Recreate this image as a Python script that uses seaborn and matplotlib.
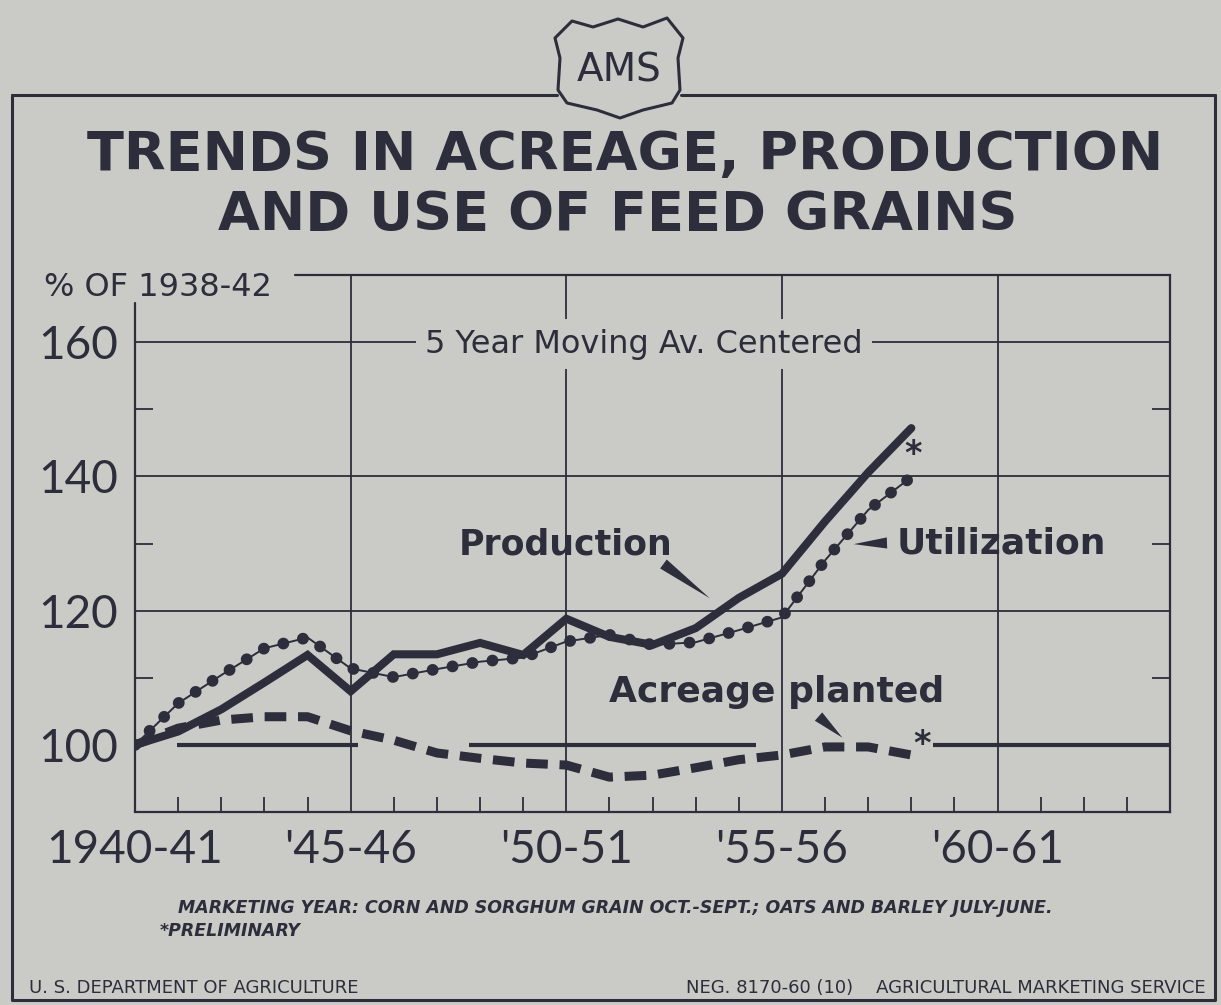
import matplotlib
matplotlib.use("Agg")
import matplotlib.pyplot as plt
import seaborn as sns
import pandas as pd
from matplotlib.path import Path
from matplotlib.patches import PathPatch
from matplotlib.lines import Line2D

# values (% of 1938-42, 5 year moving average)
years = list(range(1940, 1959))
production = [100, 102, 105.3, 109.3, 113.4, 108, 113.5, 113.5, 115.2, 113.4,
              118.8, 116.1, 114.9, 117.4, 121.9, 125.5, 133.3, 140.6, 147.2]
utilization = [100, 106.2, 110.4, 114.4, 116, 111.4, 110.1, 111.3, 112.4, 113,
               115.4, 116.4, 114.9, 115.3, 117.1, 119, 127.5, 135, 139.9]
acreage = [100, 102.5, 103.7, 104.2, 104.2, 102.1, 100.7, 98.8, 98, 97.3,
           97, 95.2, 95.5, 96.6, 97.8, 98.5, 99.7, 99.7, 98.5]
x_ticks = [1940, 1945, 1950, 1955, 1960]
x_labels = ["1940-41", "'45-46", "'50-51", "'55-56", "'60-61"]
y_ticks = [100, 120, 140, 160]

df = pd.DataFrame({"year": years, "Production": production,
                   "Utilization": utilization, "Acreage planted": acreage})

BG = "#cacbc6"
INK = "#2d2d3b"

sns.set_style("white")
plt.rcParams["font.family"] = ["DejaVu Sans"]

fig = plt.figure(figsize=(12.21, 10.05), dpi=100, facecolor=BG)
ax = fig.add_axes([0.1106, 0.192, 0.8477, 0.5343])
ax.set_facecolor(BG)

# grid
for xv in x_ticks[1:]:
    ax.axvline(xv, color=INK, lw=1.3, zorder=1)
for yv in [120, 140, 160]:
    ax.axhline(yv, color=INK, lw=1.3, zorder=1)
ax.hlines([100, 100, 100], [1940.97, 1947.75, 1958.5], [1945.16, 1954.4, 1964],
          color=INK, lw=3, zorder=1)

sns.lineplot(data=df, x="year", y="Production", ax=ax, color=INK, lw=5.8,
             solid_joinstyle="miter", zorder=4)
sns.lineplot(data=df, x="year", y="Utilization", ax=ax, color=INK, lw=1.4, zorder=3)
sns.lineplot(data=df, x="year", y="Utilization", ax=ax, color=INK, lw=8.5,
             linestyle=(0, (0.01, 1.7)), dash_capstyle="round", zorder=3)
sns.lineplot(data=df, x="year", y="Acreage planted", ax=ax, color=INK, lw=6.5,
             linestyle=(0, (2.4, 1.3)), dash_capstyle="butt", zorder=3)

ax.set_xlim(1940, 1964)
ax.set_ylim(90, 170)
ax.set_xlabel("")
ax.set_ylabel("")

ax.set_xticks(x_ticks)
ax.set_xticklabels(x_labels)
ax.set_xticks(range(1941, 1964), minor=True)
ax.set_yticks(y_ticks)
ax.set_yticks([110, 130, 150], minor=True)
ax.tick_params(axis="both", which="major", length=0, labelsize=33, colors=INK)
ax.tick_params(axis="x", which="major", pad=12)
ax.tick_params(axis="y", which="major", pad=12)
ax.tick_params(axis="x", which="minor", direction="in", length=11, width=1.3,
               color=INK, bottom=True)
ax.tick_params(axis="y", which="minor", direction="in", length=13, width=1.3,
               color=INK, left=True, right=True)
for lab in ax.get_xticklabels() + ax.get_yticklabels():
    lab.set_family("Lato")

for s in ["top", "left"]:
    ax.spines[s].set_visible(False)
for s in ["bottom", "right"]:
    ax.spines[s].set_color(INK)
    ax.spines[s].set_linewidth(1.6)
ax.add_line(Line2D([0.155, 1], [1, 1], transform=ax.transAxes, color=INK,
                   lw=1.6, clip_on=False))
ax.add_line(Line2D([0, 0], [0, 0.948], transform=ax.transAxes, color=INK,
                   lw=1.6, clip_on=False))

# labels and pointers
lab_kw = dict(color=INK, fontsize=25, fontweight="bold", va="center", zorder=6)
ax.text(1947.5, 129.8, "Production", ha="left", **lab_kw)
ax.text(1957.65, 130, "Utilization", ha="left", fontsize=26,
        **{k: v for k, v in lab_kw.items() if k != "fontsize"})
ax.text(1951.0, 107.9, "Acreage planted", ha="left", fontsize=26,
        **{k: v for k, v in lab_kw.items() if k != "fontsize"})
wedge = dict(arrowstyle="wedge,tail_width=0.8,shrink_factor=0.5", color=INK,
             lw=0)
ax.annotate("", xy=(1953.38, 121.6), xytext=(1952.2, 127.2), arrowprops=wedge)
ax.annotate("", xy=(1956.6, 129.9), xytext=(1957.5, 130.1), arrowprops=wedge)
ax.annotate("", xy=(1956.45, 100.8), xytext=(1955.8, 104.5), arrowprops=wedge)
ax.text(1958.05, 143.3, "*", color=INK, fontsize=24, fontweight="bold",
        ha="center", va="center")
ax.text(1958.25, 100.0, "*", color=INK, fontsize=24, fontweight="bold",
        ha="center", va="center")
ax.text(1951.8, 159.7, "5 Year Moving Av. Centered", color=INK, fontsize=23,
        ha="center", va="center", zorder=5,
        bbox=dict(facecolor=BG, edgecolor="none", pad=7))

# figure texts
fig.text(0.512, 0.846, "TRENDS IN ACREAGE, PRODUCTION", color=INK, fontsize=39,
         fontweight="bold", ha="center", va="center")
fig.text(0.506, 0.786, "AND USE OF FEED GRAINS", color=INK, fontsize=39,
         fontweight="bold", ha="center", va="center")
fig.text(0.036, 0.714, "% OF 1938-42", color=INK, fontsize=23, ha="left",
         va="center")
fig.text(0.146, 0.097,
         "MARKETING YEAR: CORN AND SORGHUM GRAIN OCT.-SEPT.; OATS AND BARLEY JULY-JUNE.",
         color=INK, fontsize=12.5, fontweight="bold", style="italic", ha="left",
         va="center")
fig.text(0.131, 0.074, "*PRELIMINARY", color=INK, fontsize=12.5,
         fontweight="bold", style="italic", ha="left", va="center")
fig.text(0.024, 0.017, "U. S. DEPARTMENT OF AGRICULTURE", color=INK,
         fontsize=13, ha="left", va="center")
fig.text(0.987, 0.017, "NEG. 8170-60 (10)    AGRICULTURAL MARKETING SERVICE",
         color=INK, fontsize=13, ha="right", va="center")

# outer frame with AMS shield
W, H = 1221.0, 1005.0
def fx(px):
    return px / W
def fy(py):
    return 1 - py / H

fig.add_artist(Line2D([fx(12), fx(12), fx(1215), fx(1215)],
                      [fy(95), fy(1000), fy(1000), fy(95)], color=INK, lw=2.2))
fig.add_artist(Line2D([fx(12), fx(557)], [fy(95), fy(95)], color=INK, lw=2.2))
fig.add_artist(Line2D([fx(681), fx(1215)], [fy(95), fy(95)], color=INK, lw=2.2))
shield = [(555, 38), (572, 21), (593, 27), (618, 19), (643, 27), (667, 18),
          (683, 38), (678, 58), (680, 90), (672, 103), (643, 110), (620, 118),
          (597, 110), (567, 103), (558, 90), (560, 58), (555, 38)]
verts = [(fx(a), fy(b)) for a, b in shield]
codes = [Path.MOVETO] + [Path.LINETO] * (len(verts) - 2) + [Path.CLOSEPOLY]
fig.add_artist(PathPatch(Path(verts, codes), facecolor=BG, edgecolor=INK,
                         lw=2.2, transform=fig.transFigure, joinstyle="round"))
fig.text(fx(619), fy(70), "AMS", color=INK, fontsize=28, ha="center",
         va="center")

fig.savefig("out.png", dpi=100, facecolor=BG)
